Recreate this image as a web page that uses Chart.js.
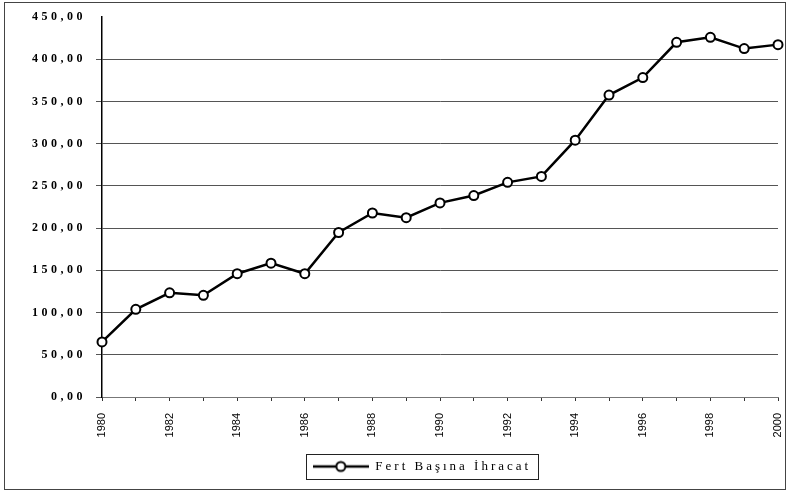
<!DOCTYPE html>
<html>
<head>
<meta charset="utf-8">
<script src="https://cdn.jsdelivr.net/npm/chart.js@4"></script>
<style>
html,body{margin:0;padding:0;background:#fff;}
#wrap{width:788px;height:493px;position:relative;}
</style>
</head>
<body>
<div id="wrap"><canvas id="c" width="788" height="493"></canvas></div>
<script>
const years = ['1980','1981','1982','1983','1984','1985','1986','1987','1988','1989','1990','1991','1992','1993','1994','1995','1996','1997','1998','1999','2000'];
const fertBasinaIhracat = [65.3,103.9,123.4,120.5,146.1,158.6,146.1,194.9,218,212.4,230,238.7,254.3,261.3,304.3,357.8,378.5,420.3,426.2,412.8,417.5];
const seriesName = 'Fert Başına İhracat';
const yMin = 0, yMax = 450, yStep = 50;

// legend sample: line through a hollow marker
const sample = document.createElement('canvas');
sample.width = 56; sample.height = 14;
(function(){
  const g = sample.getContext('2d');
  g.strokeStyle = '#000'; g.lineWidth = 2.5;
  g.beginPath(); g.moveTo(0,7); g.lineTo(56,7); g.stroke();
  g.fillStyle = '#fff'; g.lineWidth = 2;
  g.beginPath(); g.arc(28,7,4.5,0,Math.PI*2); g.fill(); g.stroke();
})();

function withSpacing(obj, name, sp){
  const orig = obj[name];
  obj[name] = function(...a){
    const c = this.ctx; const prev = c.letterSpacing;
    c.letterSpacing = sp;
    try { return orig.apply(this, a); } finally { c.letterSpacing = prev; }
  };
}

const decor = {
  id: 'decor',
  afterInit(chart){
    if (chart.legend){ withSpacing(chart.legend,'fit','3px'); withSpacing(chart.legend,'draw','3px'); }
  },
  afterLayout(chart){
    const lg = chart.legend;
    if (lg){ lg.left += 33; lg.right += 33; }
  },
  beforeDraw(chart){
    const y = chart.scales.y;
    if (y && !y._spaced){ y._spaced = true; withSpacing(y,'drawLabels','3.5px'); }
    const ctx = chart.ctx;
    ctx.save();
    ctx.fillStyle = '#fff';
    ctx.fillRect(0,0,chart.width,chart.height);
    ctx.strokeStyle = '#444'; ctx.lineWidth = 1;
    ctx.strokeRect(4.5,2.5,781,487);
    ctx.restore();
  },
  afterDraw(chart){
    const lg = chart.legend;
    if (!lg || !lg.legendHitBoxes.length) return;
    const hb = lg.legendHitBoxes[0];
    const ctx = chart.ctx;
    ctx.save();
    ctx.strokeStyle = '#222'; ctx.lineWidth = 1;
    ctx.strokeRect(Math.round(hb.left-7)+0.5, Math.round(hb.top-6)+0.5, Math.round(hb.width+14), Math.round(hb.height+12));
    ctx.restore();
  }
};

new Chart(document.getElementById('c'), {
  type: 'line',
  data: {
    labels: years,
    datasets: [{
      label: seriesName,
      data: fertBasinaIhracat,
      borderColor: '#000',
      borderWidth: 2.5,
      pointStyle: 'circle',
      pointRadius: 4.5,
      pointBorderWidth: 2,
      pointBackgroundColor: '#fff',
      pointBorderColor: '#000',
      tension: 0,
      fill: false
    }]
  },
  options: {
    responsive: false,
    animation: false,
    devicePixelRatio: 1,
    layout: { padding: { top: 12, right: 10, bottom: 10, left: 0 } },
    plugins: {
      tooltip: { enabled: false },
      legend: {
        position: 'bottom',
        labels: {
          usePointStyle: true,
          pointStyleWidth: 56,
          boxHeight: 12,
          padding: 10,
          color: '#000',
          font: { family: '"Liberation Serif", serif', size: 13 },
          generateLabels(chart){
            const items = Chart.defaults.plugins.legend.labels.generateLabels(chart);
            items.forEach(it => { it.pointStyle = sample; });
            return items;
          }
        }
      }
    },
    scales: {
      x: {
        offset: false,
        afterFit(s){ s.height = 53; s.paddingRight = 0; s.paddingLeft = 0; },
        grid: { drawOnChartArea: false, drawTicks: true, tickLength: 4, color: '#333' },
        border: { color: '#777', width: 1 },
        ticks: {
          autoSkip: false,
          maxRotation: 90, minRotation: 90,
          padding: 12,
          color: '#000',
          font: { family: '"Liberation Sans", Arial, sans-serif', size: 11 },
          callback(v, i){ return i % 2 === 0 ? years[i] : ''; }
        }
      },
      y: {
        min: yMin, max: yMax,
        afterFit(s){ s.width = 102; },
        grid: {
          color(ctx){ return ctx.tick && ctx.tick.value === yMax ? 'rgba(0,0,0,0)' : '#555'; },
          lineWidth: 1, tickLength: 6, drawTicks: true
        },
        border: { color: '#000', width: 1.5 },
        ticks: {
          stepSize: yStep,
          padding: 10,
          color: '#000',
          font: { family: '"Liberation Serif", serif', size: 12, weight: 'bold' },
          callback(v){ return v.toFixed(2).replace('.', ','); }
        }
      }
    }
  },
  plugins: [decor]
});
</script>
</body>
</html>
